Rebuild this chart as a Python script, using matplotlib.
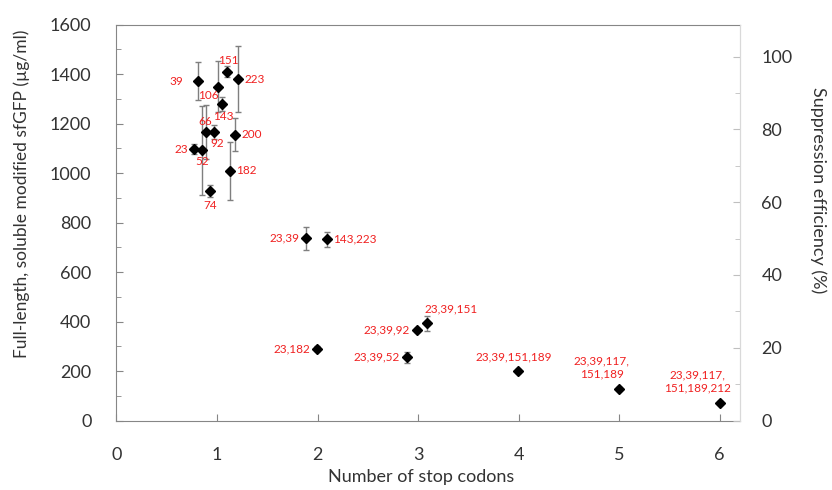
import numpy as np
from matplotlib import pyplot as plt

# number of stop codons (jittered x), yield (ug/ml), error, site label
x_vals = [0.767, 0.813, 0.853, 0.887, 0.929, 0.969, 1.012, 1.049, 1.095, 1.131, 1.178, 1.208,
          1.887, 2.09, 1.996, 2.89, 2.99, 3.09, 3.99, 4.995, 6.0]
y_vals = [1096, 1372, 1093, 1166, 928, 1167, 1349, 1279, 1409, 1009, 1155, 1379,
          736, 732, 290, 255, 366, 393, 201, 128, 72]
y_err = [20, 76, 180, 110, 25, 28, 104, 30, 22, 117, 67, 133,
         46, 30, 10, 22, 8, 30, 8, 6, 6]
labels = ['23', '39', '52', '66', '74', '92', '106', '143', '151', '182', '200', '223',
          '23,39', '143,223', '23,182', '23,39,52', '23,39,92', '23,39,151',
          '23,39,151,189', '23,39,117,\n151,189', '23,39,117,\n151,189,212']

# label placement (offset in points, horizontal alignment)
lab_pos = [(-4, 0, 'right'), (-11, 0, 'right'), (0, -8.6, 'center'), (0, 7.6, 'center'),
           (0, -10.5, 'center'), (2.4, -8.4, 'center'), (-7.2, -6, 'center'), (1.2, -9.1, 'center'),
           (1.2, 8.4, 'center'), (4.1, 0, 'left'), (4.8, 0, 'left'), (5, 0, 'left'),
           (-5, 0, 'right'), (4.5, 0, 'left'), (-5, 0, 'right'), (-5, 0, 'right'), (-5, 0, 'right'),
           (17.5, 10.3, 'center'), (-2.4, 10, 'center'), (-12.2, 15.3, 'center'), (-15.8, 15.6, 'center')]

plt.rcParams['font.family'] = ['Lato', 'DejaVu Sans']
fig = plt.figure(figsize=(8.32, 4.9), dpi=100)
ax = fig.add_axes([0.140, 0.1418, 0.749, 0.808])

ax.errorbar(x_vals, y_vals, yerr=y_err, fmt='none', ecolor='#7f7f7f', elinewidth=1,
            capsize=2, capthick=1, zorder=2)
ax.plot(x_vals, y_vals, 'D', color='black', ms=5, zorder=3)

for i in range(len(labels)):
    dx, dy, ha = lab_pos[i]
    ax.annotate(labels[i], (x_vals[i], y_vals[i]), xytext=(dx, dy), textcoords='offset points',
                ha=ha, va='center', fontsize=8.5, color='#f02020', multialignment='center')

ax.set_xlim(0, 6.2)
ax.set_ylim(0, 1600)
ax.set_xticks(range(7))
ax.set_yticks(np.arange(0, 1601, 200))
ax.set_yticks(np.arange(0, 1601, 100), minor=True)

gray = '#868686'
for s in ['left', 'bottom', 'top']:
    ax.spines[s].set_color(gray)
ax.spines['right'].set_color('#d9d9d9')
ax.tick_params(axis='x', direction='in', length=5, color=gray, labelsize=13, pad=19, labelcolor='#333333')
ax.tick_params(axis='y', which='major', direction='in', length=5, color=gray, labelsize=13, pad=18,
               labelcolor='#333333')
ax.tick_params(axis='y', which='minor', direction='in', length=3.5, color=gray)

ax2 = ax.twinx()
ax2.set_ylim(0, 108.8)
ax2.set_yticks(np.arange(0, 101, 20))
ax2.set_yticks(np.arange(0, 101, 10), minor=True)
for s in ['left', 'bottom', 'top']:
    ax2.spines[s].set_visible(False)
ax2.spines['right'].set_color('#d9d9d9')
ax2.tick_params(axis='y', which='major', direction='in', length=5, color='#bfbfbf', labelsize=13,
                pad=15.6, labelcolor='#333333')
ax2.tick_params(axis='y', which='minor', direction='in', length=3.5, color='#bfbfbf')

# axis titles placed in figure pixels like the original
fig.text(421 / 832, 1 - 477 / 490, 'Number of stop codons', fontsize=13, color='#333333',
         ha='center', va='center')
fig.text(22 / 832, 1 - 194 / 490, 'Full-length, soluble modified sfGFP (µg/ml)', fontsize=12.5,
         color='#333333', rotation=90, ha='center', va='center')
fig.text(818 / 832, 1 - 190 / 490, 'Suppression efficiency (%)', fontsize=13, color='#333333',
         rotation=270, ha='center', va='center')

fig.savefig('out.png', dpi=100)
